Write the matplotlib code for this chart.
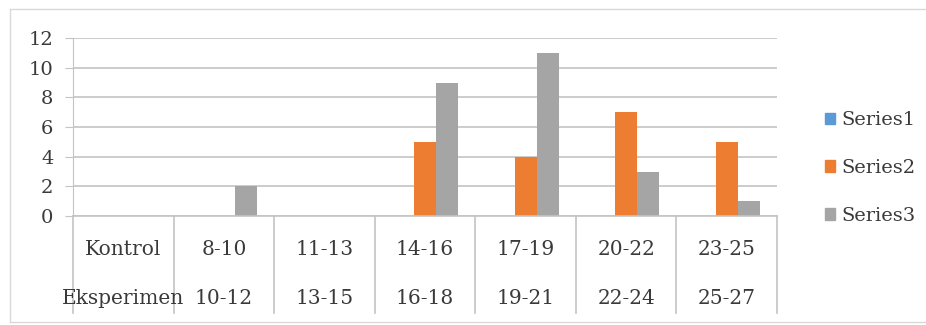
import matplotlib.pyplot as plt
import numpy as np
from matplotlib.patches import Patch
from matplotlib.lines import Line2D

top_labels = ['Kontrol', '8-10', '11-13', '14-16', '17-19', '20-22', '23-25']
bottom_labels = ['Eksperimen', '10-12', '13-15', '16-18', '19-21', '22-24', '25-27']
series1 = [0, 0, 0, 0, 0, 0, 0]
series2 = [0, 0, 0, 5, 4, 7, 5]
series3 = [0, 2, 0, 9, 11, 3, 1]
series_names = ['Series1', 'Series2', 'Series3']
colors = ['#5B9BD5', '#ED7D31', '#A5A5A5']

plt.rcParams['font.family'] = ['DejaVu Serif']
txt = '#3A3A3A'
line_col = '#C4C4C4'

fig = plt.figure(figsize=(9.26, 3.25), dpi=100)
ax = fig.add_axes([73 / 926, 1 - 216 / 325, 704 / 926, 178 / 325])

x = np.arange(len(top_labels))
w = 0.22
for i, vals in enumerate([series1, series2, series3]):
    ax.bar(x + (i - 1) * w, vals, width=w, color=colors[i], label=series_names[i])

ax.set_xlim(-0.5, len(top_labels) - 0.5)
ax.set_ylim(0, 12)
ax.set_yticks(range(0, 13, 2))
ax.yaxis.grid(True, color=line_col, linewidth=1.2)
ax.set_axisbelow(True)
for s in ['top', 'right', 'bottom']:
    ax.spines[s].set_visible(False)
ax.spines['left'].set_color(line_col)
ax.tick_params(axis='y', length=6, color=line_col, labelsize=14, labelcolor=txt, pad=8)
ax.set_xticks([])

# table under the axis
tb = -0.545
ax.plot([-0.5, 6.5], [0, 0], color=line_col, lw=1.2, clip_on=False,
        transform=ax.get_xaxis_transform())
for b in np.arange(-0.5, 7.0, 1.0):
    ax.plot([b, b], [0, tb], color=line_col, lw=1.2, clip_on=False,
            transform=ax.get_xaxis_transform())
for i in range(len(top_labels)):
    ax.text(i, -0.191, top_labels[i], ha='center', va='center', fontsize=14.5,
            color=txt, transform=ax.get_xaxis_transform())
    ax.text(i, -0.461, bottom_labels[i], ha='center', va='center', fontsize=14.5,
            color=txt, transform=ax.get_xaxis_transform())

handles = [Patch(color=c) for c in colors]
fig.legend(handles, series_names, loc='center left', bbox_to_anchor=(807 / 926, 1 - 168 / 325),
           frameon=False, fontsize=14, labelcolor=txt, handlelength=0.55, handleheight=0.55,
           handletextpad=0.3, labelspacing=1.52)

# outer frame
fc = '#D9D9D9'
fig.add_artist(Line2D([10 / 926, 1], [1 - 9 / 325, 1 - 9 / 325], color=fc, lw=1))
fig.add_artist(Line2D([10 / 926, 10 / 926], [1 - 9 / 325, 1 - 322 / 325], color=fc, lw=1))
fig.add_artist(Line2D([10 / 926, 1], [1 - 322 / 325, 1 - 322 / 325], color=fc, lw=1))

fig.savefig('out.png', dpi=100)
